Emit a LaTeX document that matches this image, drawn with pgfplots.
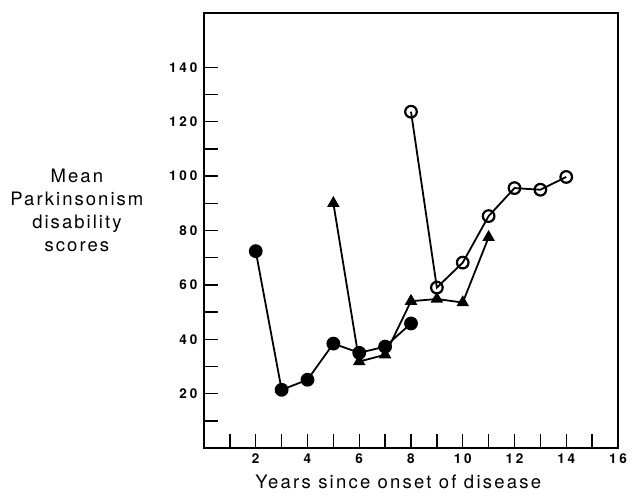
\documentclass[border=0pt]{standalone}
\usepackage{fontspec}
\setmainfont{TeX Gyre Heros}
\usepackage{pgfplots}
\pgfplotsset{compat=1.18}
\begin{document}
\begin{tikzpicture}[x=1pt,y=1pt]
\path[use as bounding box] (0,0) rectangle (632,496);
\begin{axis}[
  at={(204pt,48pt)}, anchor=south west,
  scale only axis, width=414pt, height=435pt,
  xmin=0, xmax=16, ymin=0, ymax=160,
  axis line style={line width=1.4pt},
  xtick={2,4,...,16}, minor xtick={1,3,...,15},
  ytick={20,40,...,140}, minor ytick={10,30,...,130},
  tick align=inside, xtick pos=bottom, ytick pos=left,
  major tick length=14pt, minor tick length=14pt,
  major tick style={line width=1.4pt, black},
  minor tick style={line width=1.4pt, black},
  /pgf/number format/assume math mode=true,
  ticklabel style={font=\fontsize{13.5}{15}\selectfont\bfseries\addfontfeature{LetterSpace=22}},
  xticklabel style={yshift=-2pt},
  yticklabel style={xshift=-3pt},
  xlabel={Years since onset of disease},
  xlabel style={font=\fontsize{18.5}{20}\selectfont\addfontfeature{LetterSpace=12}, at={(rel axis cs:0.469,-0.078)}, anchor=center},
  ylabel={Mean\\Parkinsonism\\disability\\scores},
  ylabel style={rotate=-90, font=\fontsize{18.5}{23}\selectfont\addfontfeature{LetterSpace=11}, align=center, at={(rel axis cs:-0.307,0.547)}, anchor=center},
]
\addplot[black, line width=1.8pt, mark=*, mark size=6pt, mark options={fill=black}]
 coordinates {(2,72.4) (3,21.4) (4,25.1) (5,38.4) (6,35) (7,37.3) (8,45.8)};
\addplot[black, line width=1.8pt, mark=triangle*, mark size=5.5pt, mark options={fill=black}]
 coordinates {(5,90) (6,31.8) (7,34.3) (8,54) (9,54.8) (10,53.5) (11,77.5)};
\addplot[black, line width=1.8pt, mark=o, mark size=5.8pt, mark options={fill=white, line width=2.2pt}]
 coordinates {(8,123.7) (9,59) (10,68.2) (11,85.3) (12,95.6) (13,95) (14,99.7)};
\end{axis}
\end{tikzpicture}
\end{document}
